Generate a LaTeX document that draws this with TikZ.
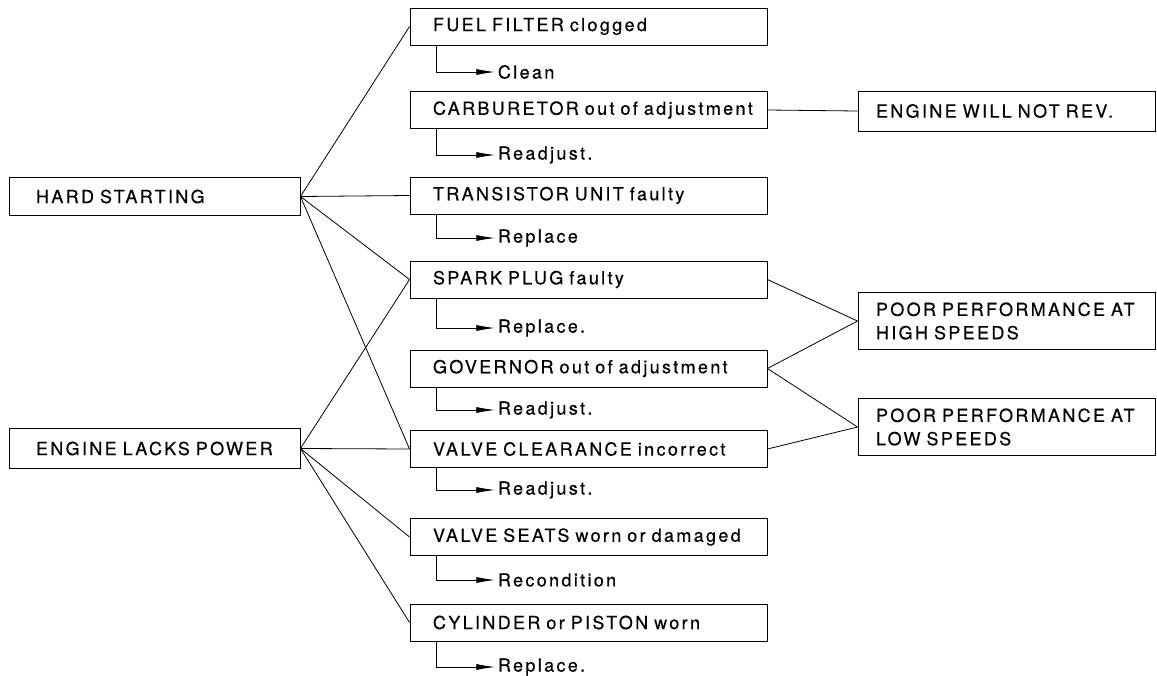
\documentclass[tikz,border=0pt]{standalone}
\usepackage{fontspec}
\setmainfont[LetterSpace=13, WordSpace=1.8, FakeBold=0.4]{TeX Gyre Heros}
\usetikzlibrary{arrows.meta}

\tikzset{
    box/.style={draw, line width=0.7pt, align=left, inner ysep=0pt, inner xsep=3pt,
        font=\fontsize{13.5}{17.5}\selectfont},
    leftbox/.style={box, text width=212.25pt, minimum height=28.5pt,
        execute at begin node={\leftskip=17.25pt}},
    midbox/.style={box, text width=261.75pt, minimum height=27.75pt,
        execute at begin node={\leftskip=14.25pt}},
    rightbox/.style={box, text width=216.75pt,
        execute at begin node={\leftskip=10.5pt}},
    fixtext/.style={anchor=west, inner xsep=2pt, font=\fontsize{13.5}{15}\selectfont},
    fixline/.style={line width=0.6pt, -{Latex[length=14pt,width=4.5pt]}},
    link/.style={line width=0.6pt}
}

\begin{document}
\begin{tikzpicture}[x=0.75pt, y=-0.75pt]
    \useasboundingbox (0,0) rectangle (1157,675);

    % symptoms
    \node[leftbox] (hard) at (154.5,196.5) {HARD STARTING};
    \node[leftbox, minimum height=30pt] (lacks) at (154.5,448.5) {ENGINE LACKS POWER};

    \node[rightbox, minimum height=30pt] (norev) at (1006.5,111) {ENGINE WILL NOT REV.};
    \node[rightbox, minimum height=42.75pt] (high) at (1006.5,321) {POOR PERFORMANCE AT\\HIGH SPEEDS};
    \node[rightbox, minimum height=42.75pt] (low) at (1006.5,427) {POOR PERFORMANCE AT\\LOW SPEEDS};

    % causes and remedies
    \foreach \name/\y/\fy/\cause/\fix in {
        filter/26.5/72/FUEL FILTER clogged/Clean,
        carb/110/155/CARBURETOR out of adjustment/Readjust.,
        trans/195.5/238/TRANSISTOR UNIT faulty/Replace,
        plug/279.5/328/SPARK PLUG faulty/Replace.,
        gov/368.5/410/GOVERNOR out of adjustment/Readjust.,
        clear/449/490/VALVE CLEARANCE incorrect/Readjust.,
        seats/537/580/VALVE SEATS worn or damaged/Recondition,
        cyl/622.5/667/CYLINDER or PISTON worn/Replace.}
    {
        \node[midbox] (\name) at (588.5,\y) {\cause};
        \node[fixtext] (\name-fix) at (495,\fy) {\fix};
        \draw[fixline] ([xshift=20.25pt]\name.south west) |- (\name-fix.west);
    }

    \foreach \to in {filter, trans, plug, clear}
        \draw[link] (hard.east) -- (\to.west);
    \foreach \to in {plug, clear, seats, cyl}
        \draw[link] (lacks.east) -- (\to.west);

    \draw[link] (carb.east) -- (norev.west);
    \draw[link] (plug.east) -- (high.west);
    \draw[link] (gov.east) -- (high.west);
    \draw[link] (gov.east) -- (low.west);
    \draw[link] (clear.east) -- (low.west);
\end{tikzpicture}
\end{document}
